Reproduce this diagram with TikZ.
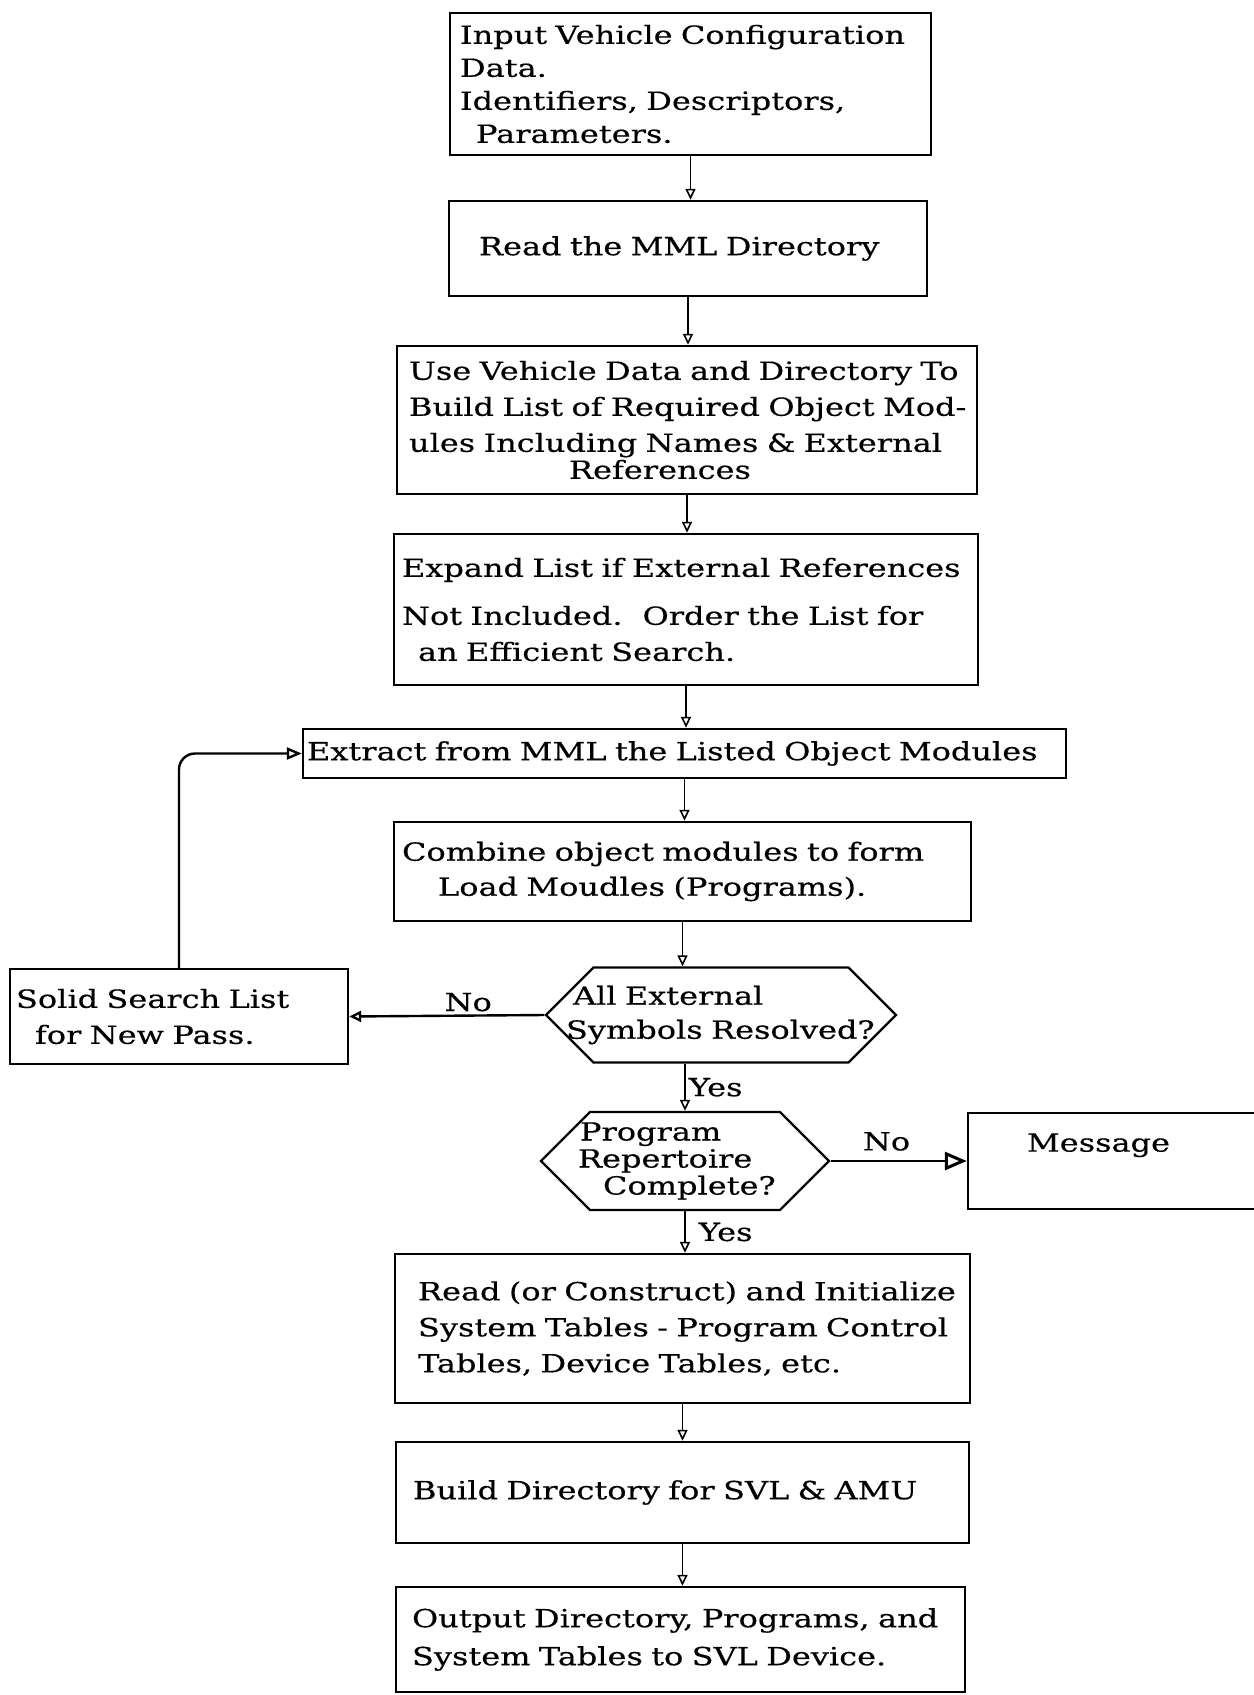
\documentclass[tikz,border=0pt]{standalone}
\usepackage{fontspec}
\setmainfont{DejaVu Serif}[FakeStretch=1.28, WordSpace=1.9, FakeBold=0.4]
\usetikzlibrary{arrows.meta, shapes.symbols}
% typewritten face
\newcommand\typedface{\fontsize{12.5}{16.5}\selectfont}

\begin{document}
\begin{tikzpicture}[x=0.5pt, y=-0.5pt,
  txt/.style={font=\typedface},
  box/.style={draw, line width=1.2pt, rectangle, inner ysep=0pt, align=left, txt},
  hexa/.style={draw, line width=1.2pt, shape=signal, signal to=west and east,
    signal pointer angle=90, inner sep=0pt, align=left, txt},
  flow/.style={line width=0.8pt, -{Triangle[open, length=5.5pt, width=5pt]}},
  lbl/.style={txt, inner sep=1.5pt}
]
\useasboundingbox (0,0) rectangle (1253,1695);

% process boxes down the main column
\node[box, minimum width=240.5pt, minimum height=71pt, inner xsep=5pt, text width=230.5pt]
  (input) at (690.5,84)
  {\mbox{Input Vehicle Configuration}\\\mbox{Data.}\\\mbox{Identifiers, Descriptors,}\\\mbox{\hspace*{8pt}Parameters.}};

\node[box, minimum width=239pt, minimum height=47.5pt, inner xsep=15pt, text width=209pt]
  (readdir) at (688,248.5) {\mbox{Read the MML Directory}};

\node[box, minimum width=290pt, minimum height=74pt, inner xsep=6pt, text width=278pt]
  (buildlist) at (687,420)
  {\mbox{Use Vehicle Data and Directory To}\\[1.5pt]\mbox{Build List of Required Object Mod-}\\[1.5pt]\mbox{ules Including Names \& External}\\[-3pt]\mbox{\hspace*{80pt}References}};

\node[box, minimum width=292pt, minimum height=75.5pt, inner xsep=4pt, text width=284pt]
  (expand) at (686,609.5)
  {\mbox{Expand List if External References}\\[7.5pt]\mbox{Not Included.\hspace{10pt}Order the List for}\\[1.5pt]\mbox{\hspace*{8pt}an Efficient Search.}};

\node[box, minimum width=381.5pt, minimum height=24.5pt, inner xsep=2pt, text width=377.5pt]
  (extract) at (684.5,753.5) {\mbox{Extract from MML the Listed Object Modules}};

\node[box, minimum width=288.5pt, minimum height=49.5pt, inner xsep=4pt, text width=280.5pt]
  (combine) at (682.5,871.5)
  {\mbox{Combine object modules to form}\\[1pt]\mbox{\hspace*{18pt}Load Moudles (Programs).}};

% decisions
\node[hexa, minimum height=47.5pt, text width=127.5pt]
  (resolved) at (721,1015) {\mbox{\hspace*{-10.25pt}All External}\\[0.5pt]\mbox{\hspace*{-13.75pt}Symbols Resolved?}};

\node[hexa, minimum height=49pt, text width=95pt]
  (complete) at (685,1161) {\mbox{\hspace*{-5pt}Program}\\[-3pt]\mbox{\hspace*{-6pt}Repertoire}\\[-3pt]\mbox{\hspace*{6.5pt}Complete?}};

% side boxes
\node[box, minimum width=169pt, minimum height=47.5pt, inner xsep=3pt, text width=163pt]
  (search) at (179,1016.5) {\mbox{Solid Search List}\\[1.5pt]\mbox{\hspace*{9.5pt}for New Pass.}};

\node[box, minimum width=166pt, minimum height=48pt, inner xsep=29.5pt, text width=107pt]
  (message) at (1134,1161) {\mbox{Message}\\[2pt]\mbox{}};

% remaining process boxes
\node[box, minimum width=287.5pt, minimum height=74.5pt, inner xsep=11.5pt, text width=264.5pt]
  (tables) at (682.5,1328.5)
  {\mbox{Read (or Construct) and Initialize}\\[1.5pt]\mbox{System Tables - Program Control}\\[1.5pt]\mbox{Tables, Device Tables, etc.}};

\node[box, minimum width=286.5pt, minimum height=50.5pt, inner xsep=8.5pt, text width=269.5pt]
  (svldir) at (682.5,1492.5) {\mbox{Build Directory for SVL \& AMU}};

\node[box, minimum width=284.5pt, minimum height=52.5pt, inner xsep=8pt, text width=268.5pt]
  (output) at (680.5,1639.5)
  {\mbox{Output Directory, Programs, and}\\[2.5pt]\mbox{System Tables to SVL Device.}};

% connectors
\draw[flow] (input.south) -- (input.south |- readdir.north);
\draw[flow] (readdir.south) -- (readdir.south |- buildlist.north);
\draw[flow] (buildlist.south) -- (buildlist.south |- expand.north);
\draw[flow] (expand.south) -- (expand.south |- extract.north);
\draw[flow] (extract.south) -- (extract.south |- combine.north);
\draw[flow] (combine.south) -- (combine.south |- resolved.north);
\draw[flow] (resolved.south -| complete.north) -- node[lbl, right] {Yes} (complete.north);
\draw[flow] (complete.south) -- node[lbl, right, xshift=5pt] {Yes} (complete.south |- tables.north);
\draw[flow] (tables.south) -- (tables.south |- svldir.north);
\draw[flow] (svldir.south) -- (svldir.south |- output.north);

\draw[line width=1.2pt, -{Triangle[open, length=6pt, width=5.5pt]}]
  (resolved.west) -- node[lbl, above, pos=0.39] {No} (search.east);
\draw[line width=1.2pt, rounded corners=8pt, -{Triangle[open, length=7.5pt, width=6pt]}]
  (search.north) |- (extract.west);
\draw[line width=1.3pt, -{Triangle[open, length=11pt, width=9pt, line width=1.5pt]}]
  (complete.east) -- node[lbl, above, pos=0.41, yshift=3pt] {No} (message.west);

\end{tikzpicture}
\end{document}
